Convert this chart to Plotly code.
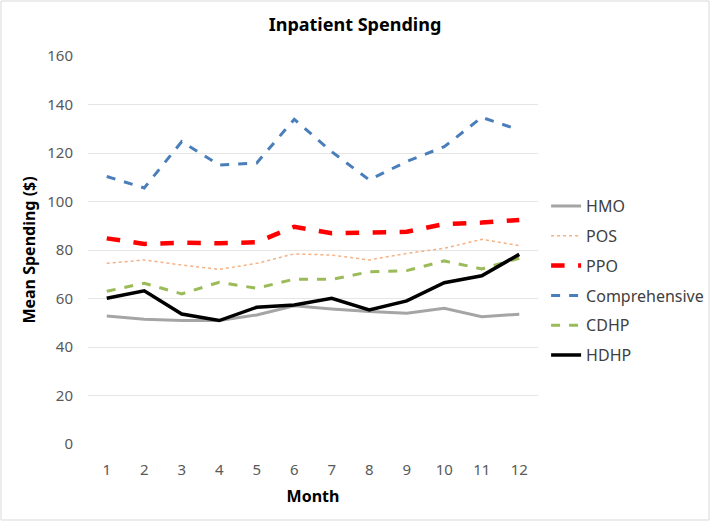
import plotly.graph_objects as go

months = [str(m) for m in range(1, 13)]
hmo = [52.8, 51.4, 50.9, 50.9, 53.2, 57.0, 55.7, 54.6, 53.9, 56.0, 52.5, 53.5]
pos = [74.5, 75.9, 73.8, 72.0, 74.5, 78.4, 77.9, 75.9, 78.6, 80.7, 84.4, 81.8]
ppo = [84.8, 82.5, 83.0, 82.8, 83.2, 89.6, 86.9, 87.3, 87.5, 90.7, 91.3, 92.4]
comprehensive = [110.3, 105.6, 124.7, 115.0, 115.9, 133.9, 120.5, 108.9, 116.5, 122.6, 134.7, 129.5]
cdhp = [63.0, 66.3, 61.9, 66.7, 64.2, 68.0, 67.9, 71.0, 71.5, 75.5, 72.2, 76.6]
hdhp = [60.1, 63.2, 53.6, 50.9, 56.4, 57.3, 60.1, 55.3, 59.0, 66.5, 69.4, 78.2]
y_ticks = [0, 20, 40, 60, 80, 100, 120, 140, 160]

series = [
    ("HMO", hmo, "#A5A5A5", "solid", 3),
    ("POS", pos, "#F4B183", "dot", 1.5),
    ("PPO", ppo, "#FF0000", "dash", 4.5),
    ("Comprehensive", comprehensive, "#4A7EBB", "dash", 3),
    ("CDHP", cdhp, "#9BBB59", "dash", 3),
    ("HDHP", hdhp, "#000000", "solid", 3.5),
]

fig = go.Figure()
for name, vals, color, dash, width in series:
    fig.add_trace(go.Scatter(
        x=months, y=vals, name=name, mode="lines", legendgroup=name,
        line=dict(color=color, dash=dash, width=width),
    ))

L, R, T, B = 88, 172, 56, 77
W, H = 710, 521
pw, ph = W - L - R, H - T - B

font_family = "Noto Sans, Open Sans, sans-serif"
fig.update_layout(
    width=W, height=H,
    margin=dict(l=L, r=R, t=T, b=B, autoexpand=False),
    paper_bgcolor="white", plot_bgcolor="white",
    font=dict(family=font_family, size=15, color="#595959"),
    title=dict(text="<b>Inpatient Spending</b>", x=0.5, xanchor="center",
               xref="container", y=0.952, yanchor="middle",
               font=dict(size=18, color="#000000")),
    showlegend=True,
    legend=dict(x=1.018, y=0.657, xanchor="left", yanchor="top",
                font=dict(size=16, color="#404040"),
                tracegroupgap=6, itemwidth=30, bgcolor="rgba(0,0,0,0)"),
    xaxis=dict(type="category", range=[-0.5, 11.5], showgrid=False, zeroline=False,
               showline=False, ticks="", ticklabelstandoff=15,
               title=dict(text="<b>Month</b>", font=dict(size=16, color="#000000"), standoff=12)),
    yaxis=dict(range=[0, 160], tickvals=y_ticks, showgrid=True,
               gridcolor="#E6E6E6", gridwidth=1, zeroline=False,
               showline=False, ticks="", ticklabelstandoff=14,
               title=dict(text="<b>Mean Spending ($)</b>", font=dict(size=16, color="#000000"), standoff=7)),
    shapes=[dict(type="rect", xref="paper", yref="paper",
                 x0=(-L + 1) / pw, x1=(W - L - 1) / pw,
                 y0=(-B + 1) / ph, y1=1 + (T - 1) / ph,
                 line=dict(color="#D9D9D9", width=1), layer="below")],
)

fig.write_html("out.html", config={"displayModeBar": False},
               post_script="document.body.style.margin='0';")
